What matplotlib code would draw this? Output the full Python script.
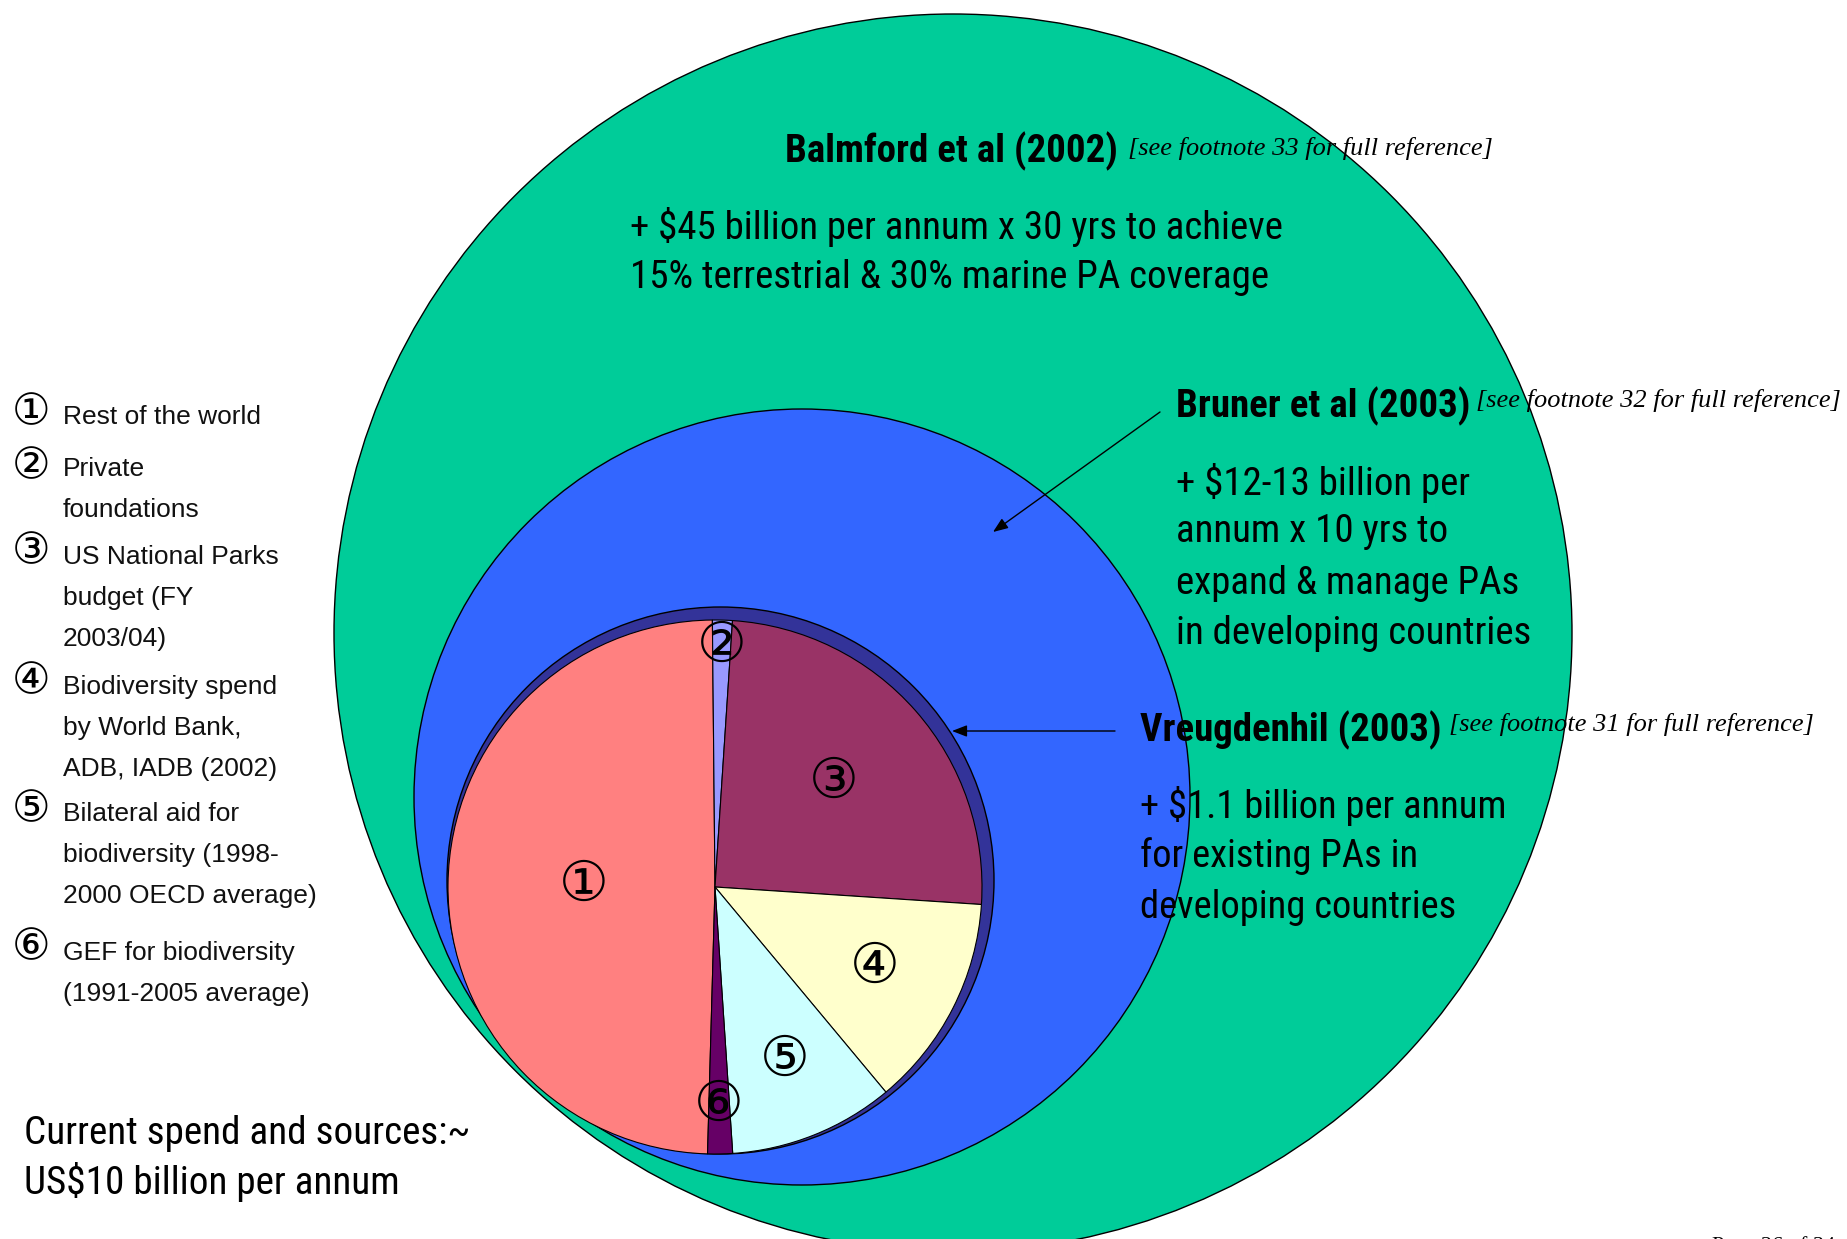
import os
import matplotlib
matplotlib.use("Agg")
import matplotlib.pyplot as plt
from matplotlib.patches import Circle
from matplotlib import font_manager
from matplotlib.font_manager import FontProperties
import numpy as np

W, H = 1847, 1239

# ---------------- data ----------------
source_markers = ["①", "②", "③", "④", "⑤", "⑥"]
source_names = ["Rest of the world", "Private foundations",
                "US National Parks budget (FY 2003/04)",
                "Biodiversity spend by World Bank, ADB, IADB (2002)",
                "Bilateral aid for biodiversity (1998-2000 OECD average)",
                "GEF for biodiversity (1991-2005 average)"]
legend_lines = [["Rest of the world"],
                ["Private", "foundations"],
                ["US National Parks", "budget (FY", "2003/04)"],
                ["Biodiversity spend", "by World Bank,", "ADB, IADB (2002)"],
                ["Bilateral aid for", "biodiversity (1998-", "2000 OECD average)"],
                ["GEF for biodiversity", "(1991-2005 average)"]]
spend_bn = [4.94, 0.12, 2.50, 1.29, 1.00, 0.15]   # current spend, ~US$10bn total
wedge_colors = ["#FF8080", "#9999FF", "#993366", "#FFFFCC", "#CCFFFF", "#660066"]

balmford_head = "Balmford et al (2002)"
balmford_ref = "[see footnote 33 for full reference]"
balmford_body = ["+ $45 billion per annum x 30 yrs to achieve",
                 "15% terrestrial & 30% marine PA coverage"]
bruner_head = "Bruner et al (2003)"
bruner_ref = "[see footnote 32 for full reference]"
bruner_body = ["+ $12-13 billion per", "annum x 10 yrs to",
               "expand & manage PAs", "in developing countries"]
vreug_head = "Vreugdenhil (2003)"
vreug_ref = "[see footnote 31 for full reference]"
vreug_body = ["+ $1.1 billion per annum", "for existing PAs in",
              "developing countries"]
current_text = ["Current spend and sources:~", "US$10 billion per annum"]
page_text = "Page 26 of 34"

# ---------------- fonts ----------------
entries = font_manager.fontManager.ttflist


def find_font(patterns):
    for p in patterns:
        for f in entries:
            if p.lower() in os.path.basename(f.fname).lower():
                return f.fname
    return None


narrow_reg = find_font(["LiberationSansNarrow-Regular", "RobotoCondensed-Regular",
                        "OpenSans_Condensed-Regular", "OpenSansCondensed-Regular",
                        "OpenSans-CondensedRegular", "DejaVuSansCondensed.ttf"])
narrow_bold = find_font(["LiberationSansNarrow-Bold.", "RobotoCondensed-Bold.",
                         "OpenSans_Condensed-Bold.", "OpenSansCondensed-Bold.",
                         "OpenSans-CondensedBold", "DejaVuSansCondensed-Bold.ttf"])


def fp_reg():
    return FontProperties(fname=narrow_reg) if narrow_reg else FontProperties(family="Liberation Sans")


def fp_bold():
    return FontProperties(fname=narrow_bold) if narrow_bold else FontProperties(family="Liberation Sans", weight="bold")


fig = plt.figure(figsize=(W / 100, H / 100), dpi=100)
ax = fig.add_axes([0, 0, 1, 1])
ax.set_xlim(0, W)
ax.set_ylim(0, H)
ax.set_aspect("equal")
ax.axis("off")
renderer = fig.canvas.get_renderer()


def Y(y):
    return H - y


def fit_block(x, ys, lines, widths, fp, max_fs, zorder=8):
    """Place lines, sizing the font so total width matches the target widths."""
    texts = []
    for line, yy in zip(lines, ys):
        p = fp.copy()
        p.set_size(max_fs)
        t = ax.text(x, Y(yy), line, fontproperties=p, ha="left", va="center",
                    zorder=zorder, color="black")
        texts.append(t)
    tot = sum(t.get_window_extent(renderer).width for t in texts)
    target = sum(widths)
    if tot > target:
        fs = max_fs * target / tot
        for t in texts:
            t.set_fontsize(fs)
    return texts


# ---------------- circles ----------------
ax.add_patch(Circle((953, Y(633)), 619, facecolor="#00CC99", edgecolor="black", lw=1.0, zorder=1))
ax.add_patch(Circle((802, Y(797)), 388, facecolor="#3366FF", edgecolor="black", lw=1.0, zorder=2))
ax.add_patch(Circle((720.5, Y(880.5)), 273.5, facecolor="#333399", edgecolor="black", lw=1.0, zorder=3))

pie_c = (715, Y(887))
pie_r = 267
wedges, _ = ax.pie(spend_bn, colors=wedge_colors, startangle=-91.6, counterclock=False,
                   center=pie_c, radius=pie_r, frame=True,
                   wedgeprops=dict(edgecolor="black", linewidth=0.8))
for w in wedges:
    w.set_zorder(4)
ax.set_xlim(0, W)
ax.set_ylim(0, H)
ax.axis("off")

label_frac = [0.49, 0.90, 0.59, 0.67, 0.70, 0.82]
for w, m, f in zip(wedges, source_markers, label_frac):
    th = np.deg2rad((w.theta1 + w.theta2) / 2)
    ax.text(pie_c[0] + f * pie_r * np.cos(th), pie_c[1] + f * pie_r * np.sin(th), m,
            fontsize=40, family=["DejaVu Sans"], ha="center", va="center", zorder=6)

# ---------------- arrows ----------------
arrow_kw = dict(arrowstyle="-|>,head_length=0.9,head_width=0.35", color="black", lw=1.0,
                shrinkA=0, shrinkB=0)
ax.annotate("", xy=(993, Y(532)), xytext=(1160, Y(412)), arrowprops=arrow_kw, zorder=7)
ax.annotate("", xy=(952, Y(731)), xytext=(1115, Y(731)), arrowprops=arrow_kw, zorder=7)

# ---------------- texts on circles ----------------
ref_fs = 19


def ref_text(x, y, s):
    ax.text(x, Y(y), s, family=["Liberation Serif"], style="italic", fontsize=ref_fs,
            ha="left", va="center", zorder=8)


fit_block(785, [151], [balmford_head], [336], fp_bold(), 28)
ref_text(1128, 148, balmford_ref)
fit_block(630, [227, 277], balmford_body, [650, 648], fp_reg(), 28)

fit_block(1176, [406], [bruner_head], [297], fp_bold(), 28)
ref_text(1476, 400, bruner_ref)
fit_block(1176, [483, 532, 583, 634], bruner_body, [293, 271, 352, 351], fp_reg(), 28)

fit_block(1140, [730], [vreug_head], [307], fp_bold(), 28)
ref_text(1449, 724, vreug_ref)
fit_block(1140, [806, 856, 907], vreug_body, [367, 276, 316], fp_reg(), 28)

# ---------------- legend ----------------
marker_y = [412, 466, 551, 681, 809, 947]
first_line_y = [417, 469, 557, 687, 814, 953]
for m, lines, my, ly in zip(source_markers, legend_lines, marker_y, first_line_y):
    ax.text(31, Y(my), m, family=["DejaVu Sans"], fontsize=31, ha="center", va="center")
    for k, line in enumerate(lines):
        ax.text(63, Y(ly + 41 * k), line, family=["Liberation Sans"], fontsize=19,
                ha="left", va="center", color="#111111")

fit_block(24, [1133, 1182], current_text, [445, 377], fp_reg(), 31, zorder=9)

ax.text(1712, Y(1236), page_text, family=["Liberation Serif"], fontsize=16, ha="left", va="top")

fig.savefig("out.png", dpi=100)
